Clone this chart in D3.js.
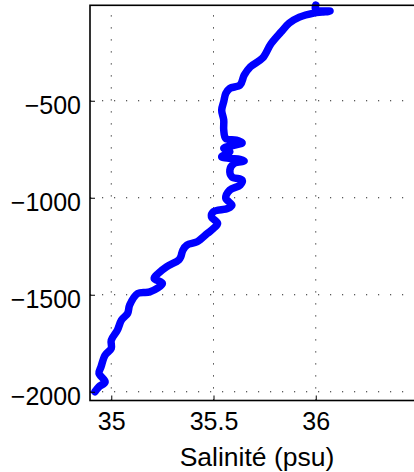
<!DOCTYPE html>
<html>
<head>
<meta charset="utf-8">
<script src="https://cdn.jsdelivr.net/npm/d3@7"></script>
<style>
  body { margin: 0; background: #fff; }
  #profile-chart text { font-family: "Liberation Sans", Arial, Helvetica, sans-serif; }
</style>
</head>
<body>
<div id="profile-chart"></div>
<script>
// Salinity profile (psu, metres)
const salinity = [
  36.00, 36.00, 36.07, 36.03, 35.99, 35.92, 35.87, 35.83, 35.78, 35.74,
  35.68, 35.65, 35.63, 35.58, 35.56, 35.55, 35.54, 35.55, 35.55, 35.56,
  35.61, 35.64, 35.58, 35.55, 35.58, 35.54, 35.58, 35.63, 35.65, 35.60,
  35.58, 35.59, 35.64, 35.63, 35.58, 35.56, 35.59, 35.57, 35.50, 35.49,
  35.52, 35.50, 35.47, 35.42, 35.37, 35.35, 35.34, 35.33, 35.27, 35.23,
  35.21, 35.25, 35.19, 35.13, 35.09, 35.08, 35.05, 35.03, 35.00, 35.00,
  34.97, 34.95, 34.94, 34.97, 34.94, 34.92
];
const depth = [
  -7, -30, -38, -43, -48, -69, -100, -146, -208, -280,
  -325, -368, -419, -436, -462, -505, -548, -599, -651, -694,
  -703, -717, -734, -745, -763, -789, -797, -802, -810, -823,
  -857, -892, -909, -935, -960, -1003, -1038, -1055, -1072, -1098,
  -1132, -1158, -1184, -1227, -1244, -1270, -1304, -1321, -1356, -1390,
  -1416, -1441, -1485, -1493, -1553, -1596, -1630, -1682, -1734, -1776,
  -1811, -1871, -1905, -1949, -1974, -2000
];
const xTicks = [35, 35.5, 36];
const yTicks = [-500, -1000, -1500, -2000];
const xLabel = "Salinité (psu)";

class ProfileViz {
  constructor() {
    this.width = 414;
    this.height = 472;
    this.margin = { top: 5.3, right: -4, bottom: 71.5, left: 90 };

    this.svg = d3
      .select("#profile-chart")
      .append("svg")
      .attr("width", this.width)
      .attr("height", this.height)
      .style("background-color", "#fff");

    this.xScale = d3
      .scaleLinear()
      .domain([34.896, 36.5])
      .range([this.margin.left, this.width - this.margin.right]);
    this.yScale = d3
      .scaleLinear()
      .domain([-2045, -8])
      .range([this.height - this.margin.bottom, this.margin.top]);

    this.draw();
  }

  draw() {
    const x0 = this.margin.left;
    const x1 = this.width - this.margin.right;
    const y0 = this.margin.top;
    const y1 = this.height - this.margin.bottom;

    // dotted grid
    const grid = this.svg.append("g")
      .attr("stroke", "#222")
      .attr("stroke-width", 1)
      .attr("stroke-dasharray", "1.2,10.8");
    grid.selectAll("line.vx")
      .data(xTicks)
      .enter()
      .append("line")
      .attr("x1", (d) => this.xScale(d))
      .attr("x2", (d) => this.xScale(d))
      .attr("y1", y1)
      .attr("y2", y0);
    grid.selectAll("line.hy")
      .data(yTicks)
      .enter()
      .append("line")
      .attr("x1", x0)
      .attr("x2", x1)
      .attr("y1", (d) => this.yScale(d))
      .attr("y2", (d) => this.yScale(d));

    // profile
    const line = d3.line()
      .x((d, i) => this.xScale(salinity[i]))
      .y((d) => this.yScale(d))
      .curve(d3.curveCatmullRom.alpha(0.5));

    this.svg.append("path")
      .datum(depth)
      .attr("d", line)
      .attr("fill", "none")
      .attr("stroke", "#0000ff")
      .attr("stroke-width", 7.5)
      .attr("stroke-linejoin", "round")
      .attr("stroke-linecap", "round");

    // axes, ticks point inward like matlab
    const xAxis = d3.axisBottom(this.xScale)
      .tickValues(xTicks)
      .tickSize(-5)
      .tickPadding(12)
      .tickFormat(d3.format("~g"));
    const yAxis = d3.axisLeft(this.yScale)
      .tickValues(yTicks)
      .tickSize(-5)
      .tickPadding(9)
      .tickFormat((d) => "\u2212" + Math.abs(d));

    const gx = this.svg.append("g")
      .attr("transform", `translate(0, ${y1})`)
      .call(xAxis);
    const gy = this.svg.append("g")
      .attr("transform", `translate(${x0}, 0)`)
      .call(yAxis);

    [gx, gy].forEach((g) => {
      g.select(".domain").remove();
      g.selectAll(".tick line").attr("stroke", "#000").attr("stroke-width", 1);
      g.selectAll(".tick text")
        .attr("fill", "#000")
        .attr("font-size", "25px");
    });
    gx.selectAll(".tick text").attr("dy", "0.71em");
    gy.selectAll(".tick text").attr("dy", "0.5em");

    // box
    this.svg.append("rect")
      .attr("x", x0)
      .attr("y", y0)
      .attr("width", x1 - x0)
      .attr("height", y1 - y0)
      .attr("fill", "none")
      .attr("stroke", "#000")
      .attr("stroke-width", 1.6);

    this.svg.append("text")
      .attr("x", 257)
      .attr("y", 466)
      .attr("text-anchor", "middle")
      .attr("font-size", "26.5px")
      .attr("fill", "#000")
      .text(xLabel);
  }
}

document.addEventListener("DOMContentLoaded", function () {
  new ProfileViz();
});
</script>
</body>
</html>
